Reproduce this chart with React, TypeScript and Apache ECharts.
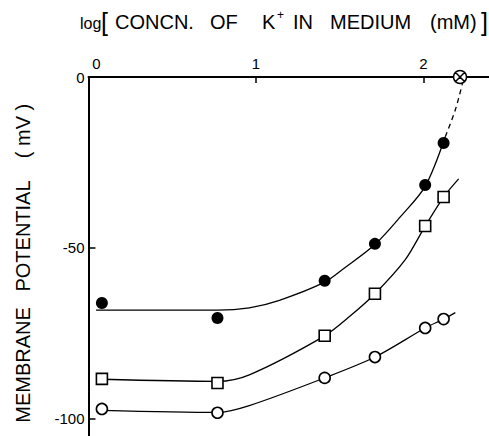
import React, { useEffect, useRef } from "react";
import * as echarts from "echarts";

// Measured points: log[K+] (mM) vs membrane potential (mV)
const kLog = [0.08, 0.77, 1.41, 1.71, 2.01, 2.12];
const filledPts = [-66.1, -70.5, -59.6, -48.8, -31.6, -19.3];
const squarePts = [-88.3, -89.5, -75.7, -63.4, -43.6, -35.1];
const circlePts = [-97.1, -98.2, -88.0, -81.9, -73.4, -70.8];

// Hand-fitted curves
const filledFitX = [0.045, 0.77, 0.96, 1.14, 1.41, 1.53, 1.71, 1.86, 2.01, 2.13];
const filledFitY = [-68.2, -68.2, -67.5, -65.3, -60, -55.8, -49, -41, -32, -17.5];
const dashFitX = [2.13, 2.19, 2.235];
const dashFitY = [-17.5, -9.6, -1.4];
const squareFitX = [0.08, 0.77, 0.96, 1.41, 1.56, 1.71, 1.89, 2.01, 2.12, 2.21];
const squareFitY = [-88.4, -89.0, -87.1, -75.7, -70, -63.4, -53.5, -43.6, -35.1, -29.8];
const circleFitX = [0.08, 0.77, 0.96, 1.41, 1.71, 2.01, 2.12, 2.19];
const circleFitY = [-97.5, -98.1, -96.1, -88.0, -81.9, -73.4, -70.8, -68.9];

// Extrapolated zero-potential point
const zeroX = [2.218];
const zeroY = [0];

const xTicks = [0, 1, 2];
const yTicks = [-100, -50, 0];

const FONT = "'Liberation Sans', Arial, Helvetica, sans-serif";

const zip = (xs: number[], ys: number[]) => xs.map((x, i) => [x, ys[i]]);

export default function App() {
  const ref = useRef<HTMLDivElement>(null);
  useEffect(() => {
    if (!ref.current) return;
    const chart = echarts.init(ref.current, undefined, { renderer: "svg" });
    const lineStyle = { color: "#000", width: 1.3 };
    const xTitle: Array<[string, number, number, number]> = [
      ["log", 80, 23, 16],
      ["[", 101, 22, 25],
      ["CONCN.", 115, 22, 20],
      ["OF", 210, 22, 20],
      ["K", 262, 22, 20],
      ["+", 277, 15, 12],
      ["IN", 293, 22, 20],
      ["MEDIUM", 330, 22, 20],
      ["(mM)", 430, 22, 20],
      ["]", 481, 22, 25],
    ];
    const yTitle: Array<[string, number]> = [
      ["( mV )", 131],
      ["POTENTIAL", 236],
      ["MEMBRANE", 365],
    ];
    chart.setOption({
      animation: false,
      backgroundColor: "#fff",
      grid: {
        left: 88.5,
        top: 77,
        width: 400.5,
        height: 359,
        containLabel: false,
        outerBoundsMode: "none",
      },
      xAxis: {
        type: "value",
        position: "top",
        min: 0,
        max: 2.391,
        splitLine: { show: false },
        axisLine: { onZero: false, lineStyle: { color: "#000", width: 2 } },
        axisTick: {
          inside: true,
          length: 6,
          customValues: [1, 2],
          lineStyle: { color: "#000", width: 1.5 },
        },
        axisLabel: {
          customValues: xTicks,
          margin: 6,
          color: "#000",
          fontSize: 15,
          fontFamily: FONT,
          formatter: (v: number) => (v === 0 ? "{z|0}" : String(v)),
          rich: { z: { padding: [0, 0, 0, 16], fontSize: 15, fontFamily: FONT, color: "#000" } },
        },
      },
      yAxis: {
        type: "value",
        min: -105,
        max: 0,
        splitLine: { show: false },
        axisLine: { onZero: false, lineStyle: { color: "#000", width: 2 } },
        axisTick: {
          inside: true,
          length: 7,
          customValues: [-100, -50],
          lineStyle: { color: "#000", width: 1.5 },
        },
        axisLabel: {
          customValues: yTicks,
          margin: 4,
          color: "#000",
          fontSize: 15,
          fontFamily: FONT,
        },
      },
      graphic: [
        ...xTitle.map(([t, x, y, fs]) => ({
          type: "text",
          x,
          y,
          style: {
            text: t,
            fill: "#000",
            fontSize: fs,
            fontFamily: FONT,
            align: "left",
            verticalAlign: "middle",
          },
        })),
        ...yTitle.map(([t, y]) => ({
          type: "text",
          x: 23,
          y,
          rotation: Math.PI / 2,
          style: {
            text: t,
            fill: "#000",
            fontSize: 20,
            fontFamily: FONT,
            align: "center",
            verticalAlign: "middle",
          },
        })),
      ],
      series: [
        {
          type: "line",
          data: zip(filledFitX, filledFitY),
          smooth: 0.3,
          showSymbol: false,
          lineStyle,
        },
        {
          type: "line",
          data: zip(dashFitX, dashFitY),
          smooth: 0.3,
          showSymbol: false,
          lineStyle: { ...lineStyle, type: [5, 4] },
        },
        {
          type: "line",
          data: zip(squareFitX, squareFitY),
          smooth: 0.3,
          showSymbol: false,
          lineStyle,
        },
        {
          type: "line",
          data: zip(circleFitX, circleFitY),
          smooth: 0.3,
          showSymbol: false,
          lineStyle,
        },
        {
          type: "scatter",
          data: zip(kLog, filledPts),
          symbol: "circle",
          symbolSize: 12,
          z: 5,
          itemStyle: { color: "#000", opacity: 1 },
        },
        {
          type: "scatter",
          data: zip(kLog, squarePts),
          symbol: "rect",
          symbolSize: 11,
          z: 5,
          itemStyle: { color: "#fff", borderColor: "#000", borderWidth: 1.6, opacity: 1 },
        },
        {
          type: "scatter",
          data: zip(kLog, circlePts),
          symbol: "circle",
          symbolSize: 11,
          z: 5,
          itemStyle: { color: "#fff", borderColor: "#000", borderWidth: 1.6, opacity: 1 },
        },
        {
          type: "scatter",
          data: zip(zeroX, zeroY),
          symbol:
            "path://M10,0A10,10,0,1,1,10,20A10,10,0,1,1,10,0ZM3.5,3.5L16.5,16.5M16.5,3.5L3.5,16.5",
          symbolSize: 13,
          z: 6,
          itemStyle: { color: "#fff", borderColor: "#000", borderWidth: 1.5, opacity: 1 },
        },
      ],
    });
    return () => chart.dispose();
  }, []);
  return (
    <div
      ref={ref}
      style={{ position: "fixed", left: 0, top: 0, width: 489, height: 436, background: "#fff" }}
    />
  );
}
